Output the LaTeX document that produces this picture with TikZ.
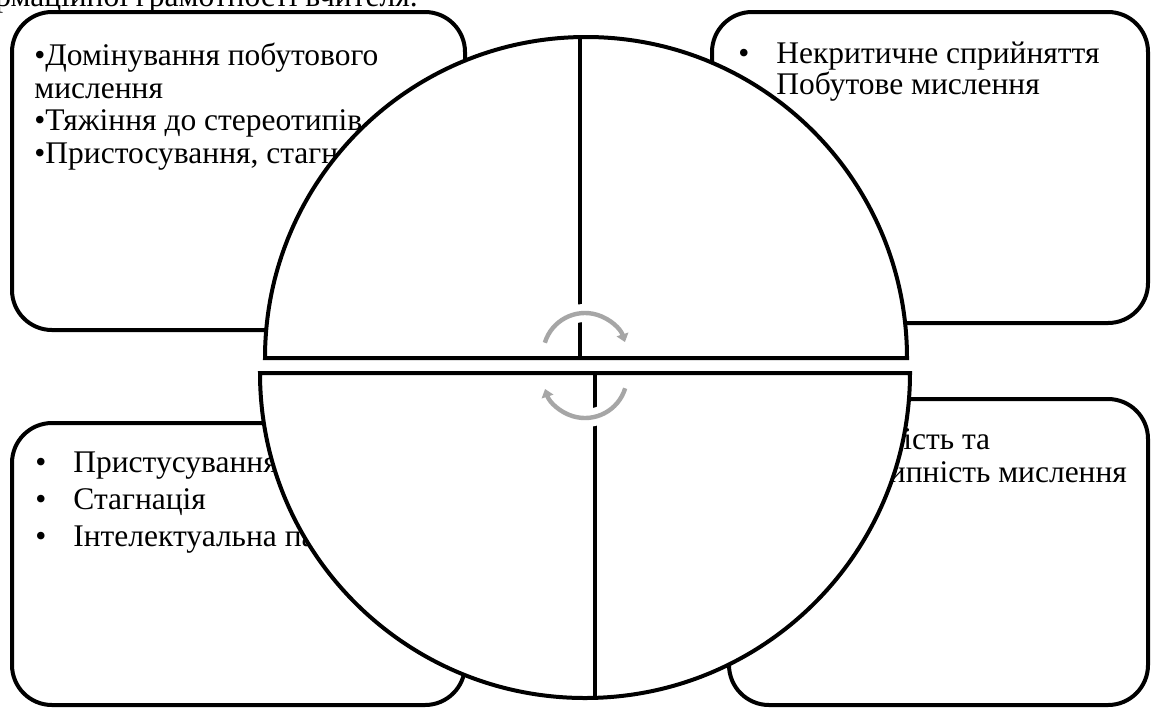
\documentclass[tikz,border=0pt]{standalone}
\usepackage{fontspec}
\setmainfont{Liberation Serif}
\newfontfamily\panelfont{Liberation Serif}
\usetikzlibrary{arrows.meta}
\definecolor{CycGray}{HTML}{A6A6A6}
\tikzset{
  panel/.style={draw=black,line width=2pt,rounded corners=20pt},
  halfdisc/.style={draw=black,line width=2pt,fill=white},
  divider/.style={draw=black,line width=2pt},
  itemtext/.style={font=\panelfont\fontsize{15.75}{16.25}\selectfont,align=left,inner sep=0pt,anchor=north west},
  cyclehalo/.style={line width=9pt,draw=white},
  cyclearrow/.style={-{Triangle[length=4pt,width=6pt]},line width=2.2pt,draw=CycGray}
}
\newcommand{\bul}{\makebox[19pt][l]{•}}

\begin{document}
\begin{tikzpicture}[x=0.5pt,y=-0.5pt]
\useasboundingbox (0,0) rectangle (1151,708);
% caption line, cut by the page edge
\node[anchor=base east,inner sep=0pt,font=\panelfont\fontsize{15.75}{16.25}\selectfont] (caption) at (418,6) {інформаційної грамотності вчителя.};
% four panels
\draw[panel] (12,12) rectangle (465,330);
\draw[panel] (712,12) rectangle (1148,323);
\draw[panel] (12,423) rectangle (465,705);
\draw[panel] (729,399) rectangle (1148,705);
\node[itemtext] (tl) at (34,43) {•Домінування побутового\\мислення\\•Тяжіння до стереотипів\\•Пристосування, стагнація};
\node[itemtext,font=\panelfont\fontsize{15.75}{15.5}\selectfont] (tr) at (738,42) {\bul Некритичне сприйняття\\\bul Побутове мислення};
\node[itemtext,font=\panelfont\fontsize{15.75}{18.5}\selectfont] (bl) at (35,451) {\bul Пристусування\\\bul Стагнація\\\bul Інтелектуальна пасивність};
\node[itemtext,font=\panelfont\fontsize{15.75}{16.5}\selectfont] (br) at (748,428) {\bul Критичність та\\\hspace*{20pt}стереотипність мислення};
% circle in two halves
\draw[halfdisc] (265,358) arc[start angle=180,end angle=360,radius=321] -- cycle;
\draw[halfdisc] (260,373) arc[start angle=180,end angle=0,radius=325] -- cycle;
\coordinate (up top) at (580,37);
\coordinate (up bot) at (580,358);
\coordinate (lo top) at (595,373);
\coordinate (lo bot) at (595,698);
\draw[divider] (up bot) -- (up top);
\draw[divider] (lo top) -- (lo bot);
% cycle arrows
\coordinate (cyc up) at (585,355);
\coordinate (cyc lo) at (585,376);
\draw[cyclehalo] (cyc up) ++(200:42) arc[start angle=200,end angle=335,radius=42];
\draw[cyclehalo] (cyc lo) ++(20:42) arc[start angle=20,end angle=155,radius=42];
\draw[cyclearrow] (cyc up) ++(197:42) arc[start angle=197,end angle=342,radius=42];
\draw[cyclearrow] (cyc lo) ++(17:42) arc[start angle=17,end angle=162,radius=42];
\end{tikzpicture}
\end{document}
